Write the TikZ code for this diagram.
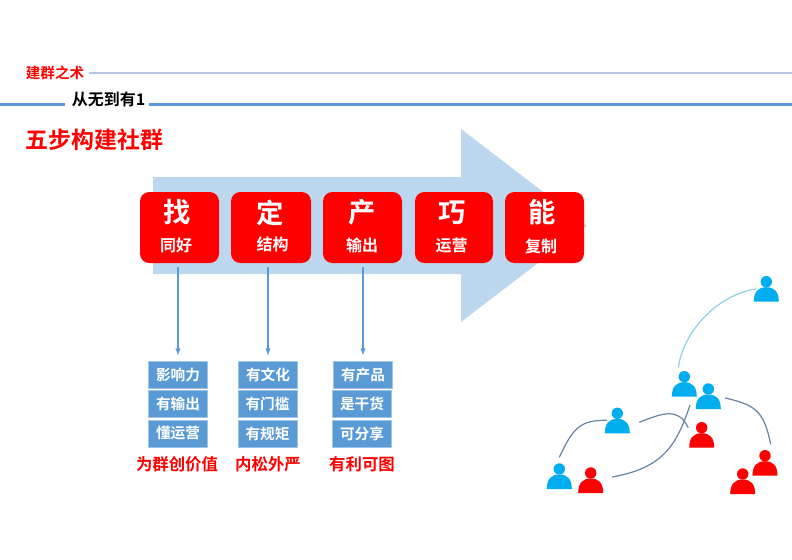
\documentclass[tikz,border=0pt]{standalone}
\usepackage{fontspec}
\setmainfont{Noto Sans CJK SC}
\newfontfamily\cjkbold{Noto Sans CJK SC Bold}
\usepackage{tikz}
\definecolor{linkblue}{HTML}{5B9BD5}
\definecolor{arrowblue}{HTML}{BDD7EE}
\definecolor{peopleblue}{HTML}{00AEEF}
\definecolor{curvegray}{HTML}{6683A3}
\definecolor{curvecyan}{HTML}{8FCFE6}
\definecolor{headline}{HTML}{B8C4E4}
\definecolor{mainred}{HTML}{FF0000}

\begin{document}
\begin{tikzpicture}[x=0.75pt,y=-0.75pt,
  redbox/.style={rectangle,rounded corners=7pt,fill=mainred,minimum height=53.25pt,inner sep=0pt},
  bigchar/.style={text=white,inner sep=0pt,font=\cjkbold\fontsize{20.5}{22}\selectfont},
  subchar/.style={text=white,inner sep=0pt,font=\cjkbold\fontsize{12}{14}\selectfont},
  bluebox/.style={rectangle,fill=linkblue,draw=linkblue!60,text=white,minimum width=44.5pt,
    minimum height=20pt,inner sep=0pt,font=\cjkbold\fontsize{11}{13}\selectfont},
  redtext/.style={text=mainred,inner sep=0pt,font=\cjkbold\fontsize{12.3}{14}\selectfont},
  flow/.style={->,>=latex,draw=linkblue,thick,shorten <=3pt,shorten >=4.5pt},
  curve/.style={draw=curvegray,line width=0.9pt},
  person/.pic={
    \fill[pic actions] (0,0) circle (5.7);
    \fill[pic actions] (-12.5,20) .. controls (-12.5,10) and (-8,5.5) .. (0,5.5)
      .. controls (8,5.5) and (12.5,10) .. (12.5,20) -- cycle;
  }]
  \useasboundingbox (0,0) rectangle (792,560);

  % header
  \draw[draw=headline,line width=0.8pt] (89,73) -- (792,73);
  \draw[linkblue,line width=1.8pt] (0,104.5) -- (65,104.5);
  \draw[linkblue,line width=1.8pt] (149,104.5) -- (792,104.5);
  \node[text=mainred,font=\cjkbold\fontsize{10.9}{12}\selectfont,inner sep=0pt] (chapter) at (55,73) {建群之术};
  \node[font=\cjkbold\fontsize{12}{13}\selectfont,inner sep=0pt] (section) at (108.5,99.5) {从无到有1};
  \node[text=mainred,font=\cjkbold\fontsize{17.2}{20}\selectfont,inner sep=0pt] (title) at (94.5,140) {五步构建社群};

  % big arrow
  \fill[arrowblue] (153,177) -- (461,177) -- (461,129) -- (587,225.5) -- (461,322) -- (461,274) -- (153,274) -- cycle;

  % steps
  \node[redbox,minimum width=59.25pt] (zhao) at (179.5,227.5) {};
  \node[redbox,minimum width=60pt] (ding) at (271,227.5) {};
  \node[redbox,minimum width=59.25pt] (chan) at (362.5,227.5) {};
  \node[redbox,minimum width=58.5pt] (qiao) at (454,227.5) {};
  \node[redbox,minimum width=59.25pt] (neng) at (544.5,227.5) {};
  \node[bigchar] (zhaotop) at (177,212.5) {找};
  \node[bigchar] (dingtop) at (270.5,212.5) {定};
  \node[bigchar] (chantop) at (362.5,212.5) {产};
  \node[bigchar] (qiaotop) at (452,212.5) {巧};
  \node[bigchar] (nengtop) at (542.5,212.5) {能};
  \node[subchar] (zhaosub) at (176,245.5) {同好};
  \node[subchar] (dingsub) at (272.5,244.5) {结构};
  \node[subchar] (chansub) at (362,245) {输出};
  \node[subchar] (qiaosub) at (451.5,246) {运营};
  \node[subchar] (nengsub) at (541,246) {复制};

  % detail boxes
  \node[bluebox] (ying) at (178,375) {影响力};
  \node[bluebox] (shu) at (178,404) {有输出};
  \node[bluebox] (dong) at (178,433.5) {懂运营};
  \node[bluebox] (wen) at (268,375) {有文化};
  \node[bluebox] (men) at (267.5,404) {有门槛};
  \node[bluebox] (gui) at (267.5,433.5) {有规矩};
  \node[bluebox] (pin) at (363,375) {有产品};
  \node[bluebox] (gan) at (362,404) {是干货};
  \node[bluebox] (fen) at (362,433.5) {可分享};
  \node[redtext] (value) at (177,464) {为群创价值};
  \node[redtext] (rule) at (268,464) {内松外严};
  \node[redtext] (profit) at (362,464) {有利可图};

  \draw[flow] (zhao.south -| ying.north) -- (ying.north);
  \draw[flow] (ding.south -| wen.north) -- (wen.north);
  \draw[flow] (chan.south -| pin.north) -- (pin.north);

  % people
  \pic[fill=peopleblue] at (766.3,281.7) {person};
  \pic[fill=peopleblue] at (684.3,376.7) {person};
  \pic[fill=peopleblue] at (708.3,389) {person};
  \pic[fill=peopleblue] at (617.3,413.3) {person};
  \pic[fill=peopleblue] at (559.3,469) {person};
  \pic[fill=mainred] at (701.7,427.7) {person};
  \pic[fill=mainred] at (590.7,473) {person};
  \pic[fill=mainred] at (765,455.7) {person};
  \pic[fill=mainred] at (742.7,474) {person};

  % links
  \coordinate (a1) at (678.3,367.7);
  \coordinate (a2) at (756,289);
  \coordinate (b1) at (725,398);
  \coordinate (b2) at (770.7,444.3);
  \coordinate (c1) at (559.3,457.3);
  \coordinate (c2) at (606.7,420.3);
  \coordinate (d1) at (639.3,422.3);
  \coordinate (d2) at (688.3,427.7);
  \coordinate (e1) at (612,477);
  \coordinate (e2) at (690,405);
  \draw[draw=curvecyan,line width=0.9pt] (a1) .. controls (683.3,331.7) and (716.7,295) .. (a2);
  \draw[curve] (b1) .. controls (756.7,405) and (764,412) .. (b2);
  \draw[curve] (c1) .. controls (573,428) and (580,420) .. (c2);
  \draw[curve] (d1) .. controls (663,413) and (678,407) .. (d2);
  \draw[curve] (e1) .. controls (663.3,468) and (676.7,445) .. (e2);
\end{tikzpicture}
\end{document}
